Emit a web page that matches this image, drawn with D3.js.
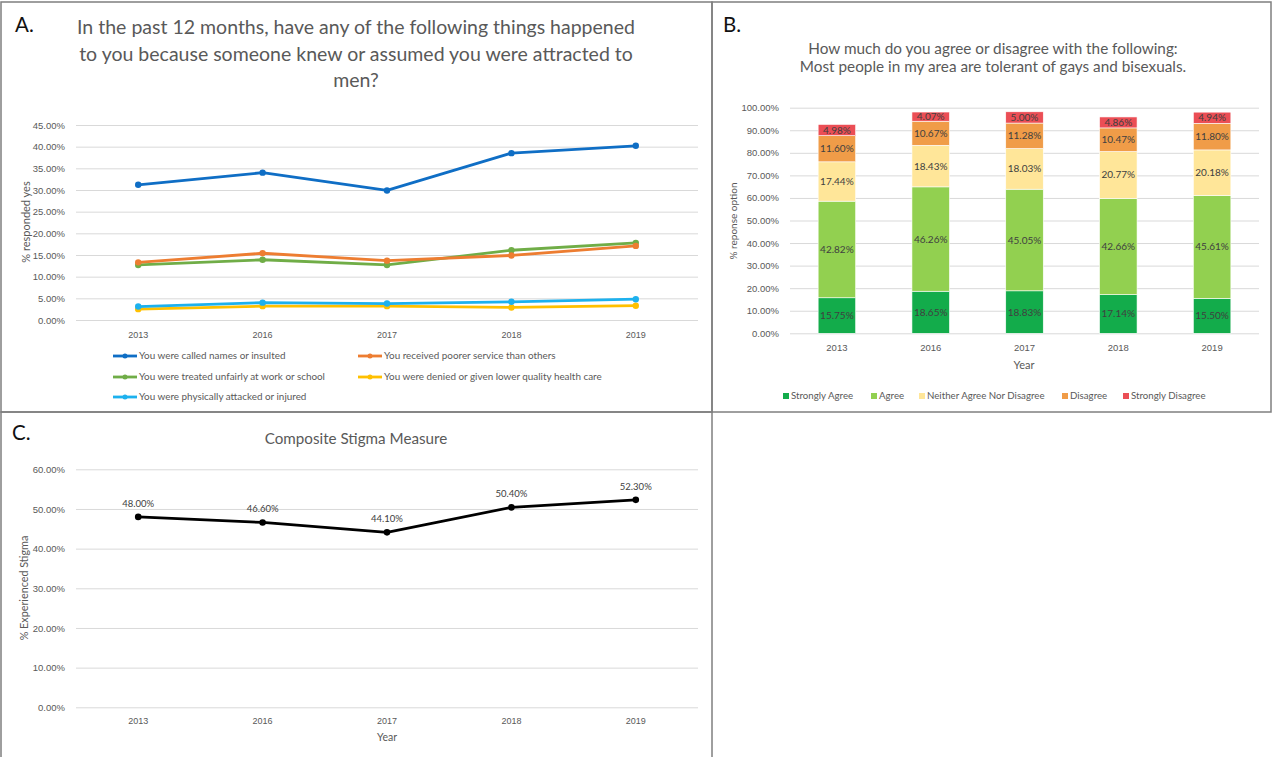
<!DOCTYPE html>
<html>
<head>
<meta charset="utf-8">
<script src="https://cdn.jsdelivr.net/npm/d3@7"></script>
<style>
  html, body { margin: 0; padding: 0; background: #fff; }
  svg { display: block; font-family: Lato, "Open Sans", sans-serif; }
  .tick text { fill: #595959; }
  .domain { display: none; }
</style>
</head>
<body>
<svg id="fig" width="1273" height="757"></svg>
<script>
// ---- shared categories ----
const years = ["2013", "2016", "2017", "2018", "2019"];

// ---- Panel A: experiences in the past 12 months (% yes) ----
const harmLabels = [
  "You were called names or insulted",
  "You received poorer service than others",
  "You were treated unfairly at work or school",
  "You were denied or given lower quality health care",
  "You were physically attacked or injured"
];
const harmColors = ["#0F6EC5", "#ED7D31", "#70AD47", "#FFC000", "#1DB1EE"];
const calledNames        = [31.2, 34.0, 29.9, 38.5, 40.2];
const poorerService      = [13.3, 15.4, 13.7, 14.9, 17.1];
const unfairWorkSchool   = [12.7, 13.9, 12.7, 16.1, 17.8];
const deniedHealthCare   = [2.5, 3.2, 3.2, 2.9, 3.3];
const physicallyAttacked = [3.1, 4.0, 3.8, 4.2, 4.8];
const harmTicks = [0, 5, 10, 15, 20, 25, 30, 35, 40, 45];

// ---- Panel B: tolerance in local area (% of responses) ----
const responseOptions = ["Strongly Agree", "Agree", "Neither Agree Nor Disagree", "Disagree", "Strongly Disagree"];
const responseColors  = ["#13AC4B", "#92D050", "#FFE699", "#F09C48", "#EB4E55"];
const stronglyAgree    = [15.75, 18.65, 18.83, 17.14, 15.50];
const agree            = [42.82, 46.26, 45.05, 42.66, 45.61];
const neither          = [17.44, 18.43, 18.03, 20.77, 20.18];
const disagree         = [11.60, 10.67, 11.28, 10.47, 11.80];
const stronglyDisagree = [4.98, 4.07, 5.00, 4.86, 4.94];
const responseTicks = [0, 10, 20, 30, 40, 50, 60, 70, 80, 90, 100];

// ---- Panel C: composite stigma measure ----
const compositeStigma = [48.00, 46.60, 44.10, 50.40, 52.30];
const stigmaTicks = [0, 10, 20, 30, 40, 50, 60];

const pct = d => d3.format(".2f")(d) + "%";
const svg = d3.select("#fig");
const grey = "#595959";

// panel frames
const frame = svg.append("g").attr("fill", "none").attr("stroke", "#7F7F7F").attr("stroke-width", 1.5);
frame.append("rect").attr("x", 1).attr("y", 2).attr("width", 711).attr("height", 410);
frame.append("rect").attr("x", 712).attr("y", 2).attr("width", 559).attr("height", 410);
frame.append("rect").attr("x", 1).attr("y", 412).attr("width", 711).attr("height", 360);

// panel letters
[["A.", 15, 32], ["B.", 723, 32], ["C.", 12, 440]].forEach(([t, x, y]) => {
  svg.append("text").attr("x", x).attr("y", y).attr("font-size", 20.5).attr("fill", "#111").text(t);
});

function gridAxis(g, y, ticks, x0, x1) {
  g.call(d3.axisLeft(y).tickValues(ticks).tickSize(-(x1 - x0)).tickPadding(11).tickFormat(pct))
    .call(s => s.selectAll(".tick line").attr("stroke", "#D9D9D9").attr("stroke-width", 1))
    .call(s => s.selectAll(".tick text").attr("font-size", 9.5));
}

/* ================= Panel A ================= */
{
  const x = d3.scaleBand().domain(years).range([76, 698]);
  const y = d3.scaleLinear().domain([0, 45]).range([320, 125]);
  const cx = d => x(d) + x.bandwidth() / 2;

  svg.append("g").attr("fill", grey).attr("font-size", 19.5).attr("text-anchor", "middle")
    .selectAll("text")
    .data(["In the past 12 months, have any of the following things happened",
           "to you because someone knew or assumed you were attracted to",
           "men?"])
    .join("text").attr("x", 356).attr("y", (d, i) => 34 + i * 26.5).text(d => d);

  gridAxis(svg.append("g").attr("transform", "translate(76,0)"), y, harmTicks, 76, 698);
  svg.append("g").attr("transform", "translate(0,320)")
    .call(d3.axisBottom(x).tickSize(0).tickPadding(12))
    .call(s => s.selectAll(".tick text").attr("font-size", 9));

  svg.append("text").attr("transform", "translate(30,222) rotate(-90)")
    .attr("text-anchor", "middle").attr("font-size", 11).attr("fill", grey).text("% responded yes");

  const series = [calledNames, poorerService, unfairWorkSchool, deniedHealthCare, physicallyAttacked];
  const line = d3.line().x((d, i) => cx(years[i])).y(d => y(d));
  // draw from back to front so the top series sit over the lower ones
  const order = [3, 4, 2, 1, 0];
  order.forEach(k => {
    const g = svg.append("g");
    g.append("path").datum(series[k]).attr("d", line).attr("fill", "none")
      .attr("stroke", harmColors[k]).attr("stroke-width", 2.8).attr("stroke-linejoin", "round");
    g.selectAll("circle").data(series[k]).join("circle")
      .attr("cx", (d, i) => cx(years[i])).attr("cy", d => y(d)).attr("r", 3.2)
      .attr("fill", harmColors[k]);
  });

  // legend: two columns, three rows
  const legendPos = [[113, 356], [358, 356], [113, 377], [358, 377], [113, 397]];
  harmLabels.forEach((lab, k) => {
    const [lx, ly] = legendPos[k];
    const g = svg.append("g").attr("transform", `translate(${lx},${ly})`);
    g.append("line").attr("x1", 0).attr("x2", 24).attr("stroke", harmColors[k]).attr("stroke-width", 2.8);
    g.append("circle").attr("cx", 12).attr("r", 2.5).attr("fill", harmColors[k]);
    g.append("text").attr("x", 26).attr("dy", "0.35em").attr("font-size", 9.9).attr("fill", grey).text(lab);
  });
}

/* ================= Panel B ================= */
{
  const x = d3.scaleBand().domain(years).range([790, 1259]).paddingInner(0.6).paddingOuter(0.3);
  const y = d3.scaleLinear().domain([0, 100]).range([333.3, 107.7]);

  svg.append("g").attr("fill", grey).attr("font-size", 15.3).attr("text-anchor", "middle")
    .selectAll("text")
    .data(["How much do you agree or disagree with the following:",
           "Most people in my area are tolerant of gays and bisexuals."])
    .join("text").attr("x", 993).attr("y", (d, i) => 53.5 + i * 18.5).text(d => d);

  gridAxis(svg.append("g").attr("transform", "translate(790,0)"), y, responseTicks, 790, 1259);
  svg.append("g").attr("transform", "translate(0,333.3)")
    .call(d3.axisBottom(x).tickSize(0).tickPadding(11))
    .call(s => s.selectAll(".tick text").attr("font-size", 9.5));

  svg.append("text").attr("x", 1024).attr("y", 369).attr("text-anchor", "middle")
    .attr("font-size", 11).attr("fill", grey).text("Year");
  svg.append("text").attr("transform", "translate(737,221) rotate(-90)")
    .attr("text-anchor", "middle").attr("font-size", 10).attr("fill", grey).text("% reponse option");

  const table = years.map((yr, i) => ({
    year: yr,
    "Strongly Agree": stronglyAgree[i],
    "Agree": agree[i],
    "Neither Agree Nor Disagree": neither[i],
    "Disagree": disagree[i],
    "Strongly Disagree": stronglyDisagree[i]
  }));
  const stacked = d3.stack().keys(responseOptions)(table);

  stacked.forEach((layer, k) => {
    const g = svg.append("g");
    g.selectAll("rect").data(layer).join("rect")
      .attr("x", d => x(d.data.year)).attr("width", x.bandwidth())
      .attr("y", d => y(d[1])).attr("height", d => y(d[0]) - y(d[1]))
      .attr("fill", responseColors[k]).attr("stroke", "#fff").attr("stroke-width", 0.6);
    g.selectAll("text").data(layer).join("text")
      .attr("x", d => x(d.data.year) + x.bandwidth() / 2)
      .attr("y", d => (y(d[0]) + y(d[1])) / 2).attr("dy", "0.35em")
      .attr("text-anchor", "middle").attr("font-size", 10).attr("fill", "#404040")
      .text(d => pct(d.data[layer.key]));
  });

  const legendX = [783, 871, 919, 1062, 1123];
  responseOptions.forEach((lab, k) => {
    const g = svg.append("g").attr("transform", `translate(${legendX[k]},396)`);
    g.append("rect").attr("x", 0).attr("y", -3).attr("width", 6).attr("height", 6).attr("fill", responseColors[k]);
    g.append("text").attr("x", 8).attr("dy", "0.35em").attr("font-size", 9.7).attr("fill", grey).text(lab);
  });
}

/* ================= Panel C ================= */
{
  const x = d3.scaleBand().domain(years).range([76, 698]);
  const y = d3.scaleLinear().domain([0, 60]).range([707.3, 469.3]);
  const cx = d => x(d) + x.bandwidth() / 2;

  svg.append("text").attr("x", 356).attr("y", 443.5).attr("text-anchor", "middle")
    .attr("font-size", 15.2).attr("fill", grey).text("Composite Stigma Measure");

  gridAxis(svg.append("g").attr("transform", "translate(76,0)"), y, stigmaTicks, 76, 698);
  svg.append("g").attr("transform", "translate(0,707.3)")
    .call(d3.axisBottom(x).tickSize(0).tickPadding(10))
    .call(s => s.selectAll(".tick text").attr("font-size", 9));

  svg.append("text").attr("x", 387).attr("y", 741).attr("text-anchor", "middle")
    .attr("font-size", 10.5).attr("fill", grey).text("Year");
  svg.append("text").attr("transform", "translate(28,588) rotate(-90)")
    .attr("text-anchor", "middle").attr("font-size", 10.8).attr("fill", grey).text("% Experienced Stigma");

  const line = d3.line().x((d, i) => cx(years[i])).y(d => y(d));
  svg.append("path").datum(compositeStigma).attr("d", line).attr("fill", "none")
    .attr("stroke", "#000").attr("stroke-width", 2.8).attr("stroke-linejoin", "round");
  svg.append("g").selectAll("circle").data(compositeStigma).join("circle")
    .attr("cx", (d, i) => cx(years[i])).attr("cy", d => y(d)).attr("r", 3.3).attr("fill", "#000");
  svg.append("g").selectAll("text").data(compositeStigma).join("text")
    .attr("x", (d, i) => cx(years[i])).attr("y", d => y(d) - 10)
    .attr("text-anchor", "middle").attr("font-size", 9.5).attr("fill", "#404040")
    .text(d => pct(d));
}
</script>
</body>
</html>
